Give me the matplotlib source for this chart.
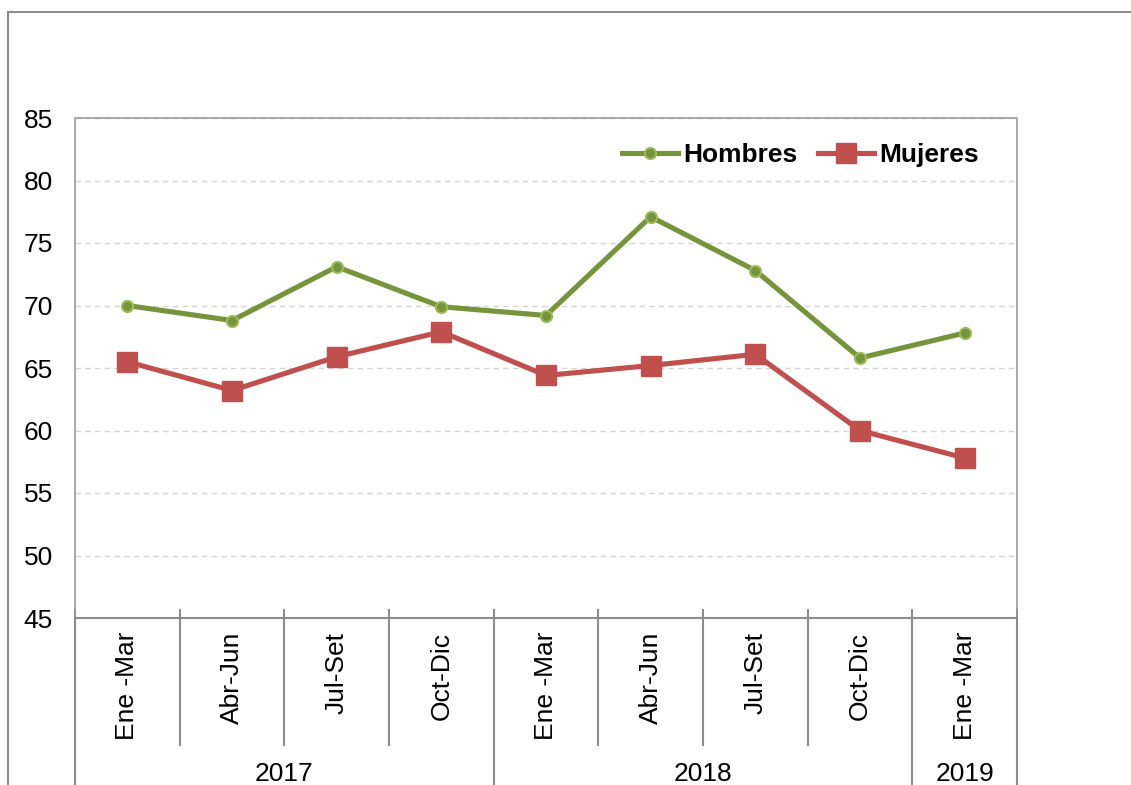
import matplotlib
matplotlib.use("Agg")
import matplotlib.pyplot as plt
import matplotlib.transforms as mtransforms
from matplotlib.patches import Rectangle

plt.rcParams['font.family'] = ['Liberation Sans', 'DejaVu Sans']

# data
trimestres = ['Ene -Mar', 'Abr-Jun', 'Jul-Set', 'Oct-Dic',
              'Ene -Mar', 'Abr-Jun', 'Jul-Set', 'Oct-Dic', 'Ene -Mar']
anios = ['2017', '2018', '2019']
anio_grupos = [4, 4, 1]
hombres = [70.0, 68.8, 73.1, 69.9, 69.2, 77.1, 72.8, 65.8, 67.8]
mujeres = [65.5, 63.2, 65.9, 67.9, 64.4, 65.2, 66.1, 60.0, 57.8]

W, H = 1131, 785
fig = plt.figure(figsize=(W / 100, H / 100), dpi=100)

# outer chart border (cut off at right and bottom)
fig.patches.append(Rectangle((8 / W, -0.1), 1.2, (H - 12) / H + 0.1,
                             transform=fig.transFigure, fill=False,
                             edgecolor='#8c8c8c', lw=1.5))

ax = fig.add_axes([75 / W, (H - 618) / H, 942 / W, 500 / H])
x = list(range(len(trimestres)))

ax.plot(x, hombres, color='#77933C', lw=3.7, marker='o', markersize=8,
        markerfacecolor='#77933C', markeredgecolor='#9BBB59', markeredgewidth=1.5,
        label='Hombres', zorder=3)
ax.plot(x, mujeres, color='#C0504D', lw=3.7, marker='s', markersize=14,
        markerfacecolor='#C0504D', markeredgecolor='#C0504D',
        label='Mujeres', zorder=3)

ax.set_xlim(-0.5, len(trimestres) - 0.5)
ax.set_ylim(45, 85)
ax.set_yticks(range(45, 86, 5))
ax.yaxis.grid(True, color='#d4d4d4', linestyle=(0, (4, 3)), lw=1)
ax.set_axisbelow(True)
ax.tick_params(axis='y', length=0, pad=16, labelsize=19)
ax.set_xticks([])

for side in ['left', 'top', 'right']:
    ax.spines[side].set_linestyle((0, (1, 1)))
    ax.spines[side].set_color('#999999')
    ax.spines[side].set_linewidth(1.2)
ax.spines['bottom'].set_color('#8c8c8c')
ax.spines['bottom'].set_linewidth(1.5)

trans = mtransforms.blended_transform_factory(ax.transData, ax.transAxes)

# category labels
for i, lab in enumerate(trimestres):
    ax.text(i, -0.028, lab, transform=trans, rotation=90, ha='center',
            va='top', fontsize=19, clip_on=False)

# separators: short ones between quarters, long ones between years
year_edges = [-0.5]
for n in anio_grupos:
    year_edges.append(year_edges[-1] + n)
for k in range(len(trimestres) + 1):
    b = k - 0.5
    if b in year_edges:
        ax.plot([b, b], [0.016, -0.4], transform=trans, color='#8c8c8c',
                lw=1.5, clip_on=False)
    else:
        ax.plot([b, b], [0.016, -0.254], transform=trans, color='#8c8c8c',
                lw=1.5, clip_on=False)

# year labels
for j, a in enumerate(anios):
    c = (year_edges[j] + year_edges[j + 1]) / 2
    ax.text(c, -0.288, a, transform=trans, ha='center', va='top',
            fontsize=19, clip_on=False)

leg = ax.legend(loc='center', bbox_to_anchor=(0.770, 0.926), ncol=2,
                frameon=False, prop={'weight': 'bold', 'size': 19},
                handlelength=2.1, handletextpad=0.2, columnspacing=0.8,
                borderaxespad=0)

fig.savefig('out.png', dpi=100)
